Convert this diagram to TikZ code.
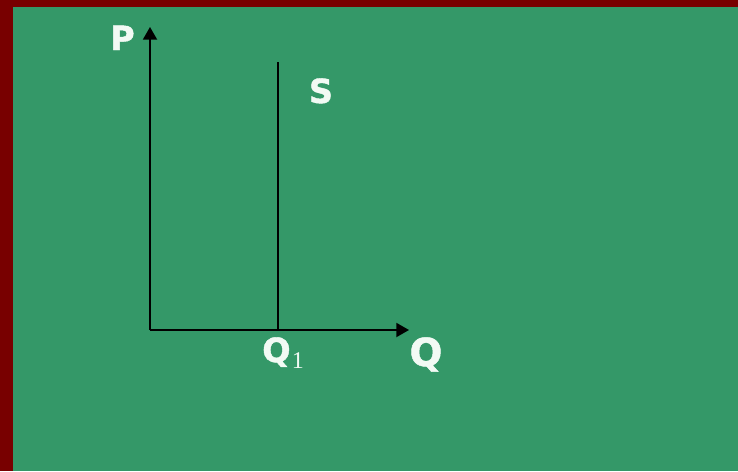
\documentclass[tikz,border=0pt]{standalone}
\usepackage{fontspec}
\setmainfont{DejaVu Sans}[BoldFont={DejaVu Sans Bold},BoldFeatures={FakeBold=1.2}]
\newfontfamily\subserif{Liberation Serif}
\usetikzlibrary{arrows.meta}
\definecolor{bg}{RGB}{52,152,104}
\definecolor{frame}{RGB}{120,0,0}
\definecolor{txt}{RGB}{242,250,244}
\begin{document}
\begin{tikzpicture}[x=0.75pt,y=-0.75pt,
  axis/.style={draw=black,line width=1.4pt,-{Triangle[length=9.5pt,width=10.5pt]}},
  lbl/.style={text=txt,font=\bfseries\fontsize{25}{25}\selectfont,inner sep=0pt,anchor=base}]
\fill[frame] (0,0) rectangle (738,471);
\fill[bg] (13,7) rectangle (738,471);
\useasboundingbox (0,0) rectangle (738,471);
\coordinate (O) at (150,330);
\coordinate (Ptop) at (150,27);
\coordinate (Qend) at (409,330);
\coordinate (Stop) at (278,62);
\coordinate (Sbot) at (278,330);
\draw[axis] (O) -- (Ptop);
\draw[axis] (O) -- (Qend);
\draw[black,line width=1.4pt] (Sbot) -- (Stop);
\node[lbl] (P) at (122.5,50) {P};
\node[lbl] (S) at (321,103) {S};
\node[lbl,anchor=base west] (Q1) at (262,362) {Q\kern1pt{\subserif\mdseries\fontsize{18}{18}\selectfont\raisebox{-4.5pt}{1}}};
\node[lbl,anchor=base,font=\bfseries\fontsize{29}{29}\selectfont] (Q) at (426,366) {Q};
\end{tikzpicture}
\end{document}
